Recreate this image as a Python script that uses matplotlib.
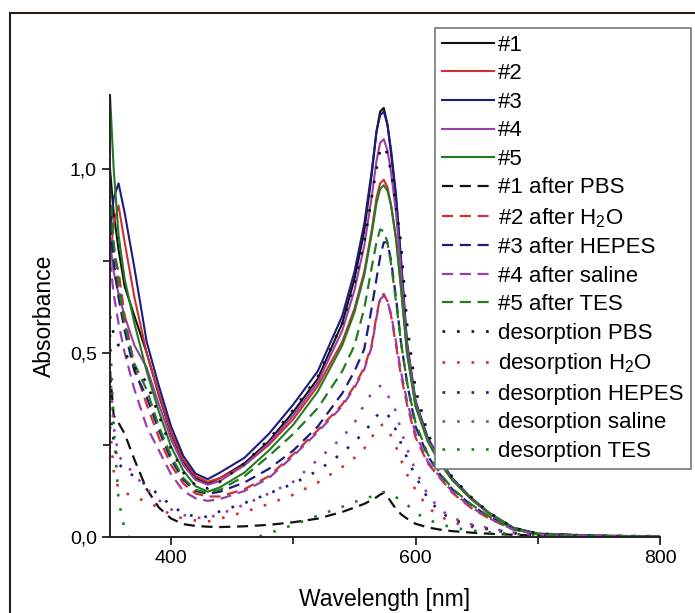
import matplotlib
matplotlib.use('Agg')
import matplotlib.pyplot as plt
from matplotlib.patches import Rectangle
from matplotlib.ticker import FixedLocator, FuncFormatter

plt.rcParams['font.family'] = ['Liberation Sans', 'DejaVu Sans']
plt.rcParams['mathtext.default'] = 'regular'

# wavelength grid [nm] shared by all spectra
WL = [350, 353, 357, 362, 370, 380, 390, 400, 410, 420, 430, 440, 460, 480,
      500, 520, 540, 550, 558, 564, 568, 571, 574, 577, 580, 584, 588, 593,
      600, 610, 620, 630, 645, 660, 680, 700, 750, 800]

# as prepared
S1 = [1.0, 0.88, 0.78, 0.68, 0.6, 0.5, 0.385, 0.28, 0.205, 0.16, 0.145, 0.16, 0.2, 0.26,
      0.34, 0.43, 0.58, 0.7, 0.83, 0.98, 1.1, 1.155, 1.165, 1.12, 1.04, 0.92, 0.75, 0.52,
      0.365, 0.265, 0.205, 0.157, 0.105, 0.064, 0.024, 0.008, 0.003, 0.002]
S2 = [0.75, 0.85, 0.9, 0.8, 0.65, 0.5, 0.39, 0.285, 0.21, 0.165, 0.15, 0.16, 0.195, 0.25,
      0.32, 0.41, 0.53, 0.62, 0.72, 0.83, 0.92, 0.96, 0.97, 0.95, 0.9, 0.81, 0.68, 0.5,
      0.355, 0.26, 0.2, 0.155, 0.104, 0.064, 0.024, 0.008, 0.003, 0.002]
S3 = [0.82, 0.92, 0.96, 0.88, 0.73, 0.53, 0.41, 0.3, 0.22, 0.172, 0.157, 0.175, 0.215, 0.28,
      0.36, 0.45, 0.6, 0.72, 0.85, 0.99, 1.1, 1.145, 1.155, 1.12, 1.05, 0.93, 0.76, 0.53,
      0.37, 0.27, 0.21, 0.16, 0.108, 0.066, 0.025, 0.009, 0.003, 0.002]
S4 = [0.8, 0.72, 0.66, 0.6, 0.52, 0.46, 0.36, 0.265, 0.195, 0.155, 0.142, 0.152, 0.195, 0.255,
      0.33, 0.42, 0.56, 0.67, 0.79, 0.92, 1.02, 1.07, 1.08, 1.05, 0.99, 0.88, 0.73, 0.52,
      0.365, 0.265, 0.205, 0.157, 0.106, 0.065, 0.025, 0.009, 0.003, 0.002]
S5 = [1.2, 1.0, 0.82, 0.7, 0.58, 0.45, 0.34, 0.245, 0.18, 0.138, 0.123, 0.135, 0.175, 0.235,
      0.305, 0.395, 0.52, 0.61, 0.71, 0.82, 0.905, 0.945, 0.955, 0.94, 0.9, 0.81, 0.68, 0.5,
      0.355, 0.26, 0.2, 0.155, 0.106, 0.066, 0.025, 0.009, 0.003, 0.002]

# after buffer
A1 = [0.45, 0.33, 0.31, 0.28, 0.21, 0.13, 0.08, 0.05, 0.035, 0.03, 0.028, 0.027, 0.029, 0.033,
      0.04, 0.05, 0.068, 0.08, 0.09, 0.1, 0.108, 0.115, 0.12, 0.11, 0.095, 0.076, 0.062, 0.05,
      0.036, 0.026, 0.02, 0.016, 0.012, 0.009, 0.006, 0.004, 0.002, 0.002]
A2 = [0.8, 0.78, 0.72, 0.6, 0.46, 0.36, 0.27, 0.195, 0.145, 0.118, 0.11, 0.11, 0.13, 0.165,
      0.225, 0.29, 0.36, 0.41, 0.46, 0.52, 0.6, 0.65, 0.66, 0.64, 0.6, 0.52, 0.44, 0.36,
      0.27, 0.2, 0.16, 0.12, 0.08, 0.05, 0.02, 0.007, 0.003, 0.002]
A3 = [0.85, 0.75, 0.65, 0.56, 0.45, 0.38, 0.29, 0.21, 0.155, 0.125, 0.117, 0.123, 0.148, 0.185,
      0.235, 0.3, 0.39, 0.45, 0.51, 0.62, 0.7, 0.76, 0.8, 0.8, 0.75, 0.65, 0.53, 0.42,
      0.3, 0.22, 0.17, 0.13, 0.088, 0.055, 0.022, 0.008, 0.003, 0.002]
A4 = [0.75, 0.66, 0.58, 0.5, 0.4, 0.3, 0.235, 0.17, 0.125, 0.105, 0.098, 0.103, 0.125, 0.16,
      0.22, 0.285, 0.355, 0.405, 0.455, 0.515, 0.595, 0.645, 0.655, 0.64, 0.605, 0.53, 0.45, 0.37,
      0.28, 0.205, 0.163, 0.123, 0.082, 0.051, 0.02, 0.007, 0.003, 0.002]
A5 = [0.95, 0.8, 0.68, 0.58, 0.47, 0.4, 0.3, 0.22, 0.16, 0.128, 0.12, 0.128, 0.165, 0.22,
      0.28, 0.35, 0.45, 0.52, 0.62, 0.73, 0.8, 0.835, 0.83, 0.8, 0.74, 0.64, 0.53, 0.42,
      0.31, 0.225, 0.173, 0.132, 0.09, 0.056, 0.022, 0.008, 0.003, 0.002]

# desorption
D1 = [0.6, 0.55, 0.52, 0.5, 0.46, 0.42, 0.33, 0.24, 0.175, 0.14, 0.132, 0.15, 0.2, 0.265,
      0.345, 0.435, 0.58, 0.69, 0.8, 0.92, 1.0, 1.05, 1.06, 1.04, 0.99, 0.9, 0.8, 0.58,
      0.4, 0.28, 0.215, 0.163, 0.11, 0.067, 0.025, 0.009, 0.003, 0.002]
D2 = [0.3, 0.18, 0.13, 0.12, 0.11, 0.095, 0.08, 0.06, 0.05, 0.045, 0.042, 0.05, 0.068, 0.09,
      0.115, 0.148, 0.19, 0.215, 0.24, 0.27, 0.29, 0.303, 0.305, 0.29, 0.275, 0.245, 0.21, 0.17,
      0.128, 0.08, 0.056, 0.04, 0.028, 0.02, 0.01, 0.005, 0.002, 0.002]
D3 = [0.35, 0.26, 0.2, 0.18, 0.165, 0.14, 0.115, 0.085, 0.065, 0.055, 0.055, 0.07, 0.092, 0.118,
      0.145, 0.18, 0.228, 0.258, 0.285, 0.31, 0.328, 0.338, 0.34, 0.333, 0.318, 0.29, 0.255, 0.215,
      0.165, 0.105, 0.068, 0.048, 0.032, 0.022, 0.011, 0.005, 0.002, 0.002]
D4 = [0.45, 0.3, 0.22, 0.2, 0.17, 0.13, 0.1, 0.075, 0.06, 0.052, 0.052, 0.062, 0.088, 0.118,
      0.15, 0.21, 0.27, 0.31, 0.36, 0.39, 0.405, 0.41, 0.405, 0.385, 0.37, 0.34, 0.29, 0.24,
      0.18, 0.115, 0.075, 0.052, 0.035, 0.024, 0.012, 0.005, 0.002, 0.002]
D5 = [0.55, 0.3, 0.1, 0.02, -0.03, -0.05, -0.06, -0.06, -0.06, -0.055, -0.05, -0.04, -0.012, 0.01,
      0.033, 0.058, 0.082, 0.095, 0.103, 0.11, 0.115, 0.119, 0.122, 0.121, 0.116, 0.108, 0.1, 0.088,
      0.066, 0.047, 0.035, 0.026, 0.018, 0.013, 0.008, 0.005, 0.003, 0.002]

COLORS = ['#111111', '#d03030', '#1c1c80', '#9a3ea8', '#237a23']
LABELS = ['#1', '#2', '#3', '#4', '#5',
          '#1 after PBS', '#2 after H$_2$O', '#3 after HEPES', '#4 after saline', '#5 after TES',
          'desorption PBS', 'desorption H$_2$O', 'desorption HEPES', 'desorption saline',
          'desorption TES']


def main():
    fig = plt.figure(figsize=(6.95, 6.13), dpi=100)
    ax = fig.add_axes([110 / 695, 76 / 613, 550 / 695, 442 / 613])

    groups = [(S1, S2, S3, S4, S5), (A1, A2, A3, A4, A5), (D1, D2, D3, D4, D5)]
    styles = [dict(linestyle='-', linewidth=1.5),
              dict(linestyle=(0, (5, 3)), linewidth=1.6),
              dict(linestyle=(0, (1.0, 4.5)), linewidth=1.9)]
    k = 0
    for series, st in zip(groups, styles):
        for y, c in zip(series, COLORS):
            ax.plot(WL, y, color=c, label=LABELS[k], **st)
            k += 1

    ax.set_xlim(350, 800)
    ax.set_ylim(0, 1.2)
    for s in ['top', 'right']:
        ax.spines[s].set_visible(False)
    for s in ['left', 'bottom']:
        ax.spines[s].set_linewidth(1.4)
        ax.spines[s].set_color('#222222')

    ax.xaxis.set_major_locator(FixedLocator([400, 600, 800]))
    ax.xaxis.set_minor_locator(FixedLocator([500, 700]))
    ax.yaxis.set_major_locator(FixedLocator([0, 0.5, 1.0]))
    ax.yaxis.set_minor_locator(FixedLocator([0.25, 0.75]))
    ax.yaxis.set_major_formatter(FuncFormatter(lambda v, p: f'{v:.1f}'.replace('.', ',')))
    ax.tick_params(which='major', direction='out', length=6, width=1.3, labelsize=14,
                   color='#222222')
    ax.tick_params(which='minor', direction='out', length=5, width=1.3, color='#222222')

    ax.set_xlabel('Wavelength [nm]', fontsize=16.5, labelpad=15)
    ax.set_ylabel('Absorbance', fontsize=16.5, labelpad=10)

    leg = ax.legend(loc='upper left', bbox_to_anchor=(435 / 695, 1 - 28 / 613),
                    bbox_transform=fig.transFigure, fontsize=16, frameon=True,
                    fancybox=False, framealpha=1, edgecolor='#777777',
                    handlelength=2.35, handletextpad=0.2, borderpad=0.3,
                    labelspacing=0.34, borderaxespad=0)
    leg.get_frame().set_linewidth(1.2)

    # outer frame around the figure
    fig.patches.append(Rectangle((10 / 695, -0.05), 1.1, 1 - 13 / 613 + 0.05,
                                 transform=fig.transFigure, fill=False,
                                 edgecolor='#2a1e16', linewidth=1.5))

    fig.savefig('out.png', dpi=100)


if __name__ == '__main__':
    main()
